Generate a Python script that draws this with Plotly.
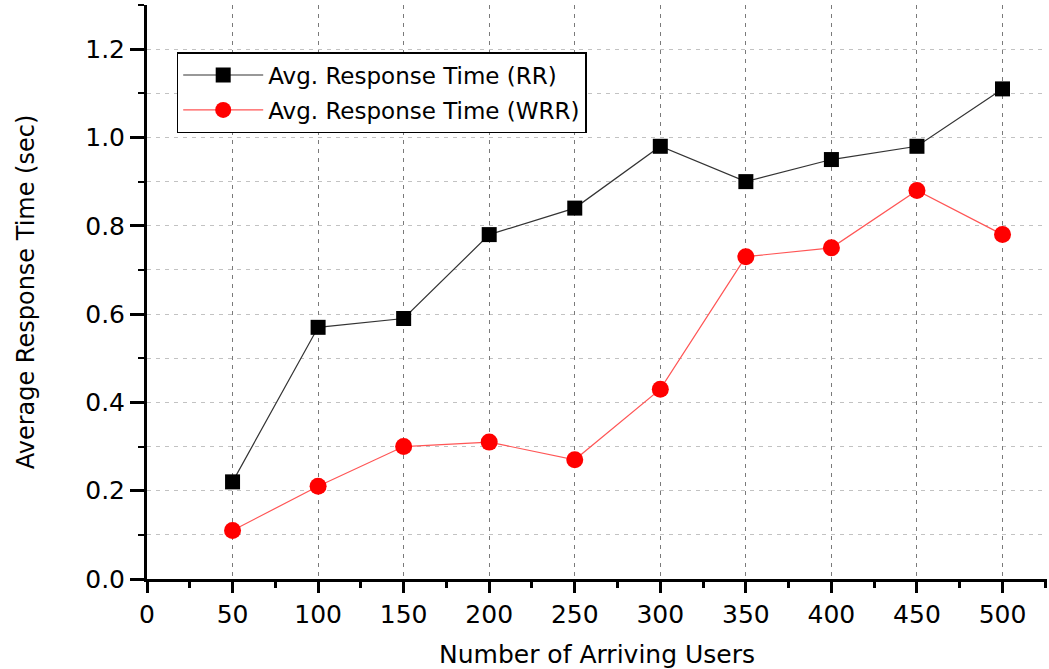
import plotly.graph_objects as go

# Number of arriving users and average response times (seconds)
users = [50, 100, 150, 200, 250, 300, 350, 400, 450, 500]
rr_times = [0.22, 0.57, 0.59, 0.78, 0.84, 0.98, 0.90, 0.95, 0.98, 1.11]
wrr_times = [0.11, 0.21, 0.30, 0.31, 0.27, 0.43, 0.73, 0.75, 0.88, 0.78]

x_ticks = [0, 50, 100, 150, 200, 250, 300, 350, 400, 450, 500]
y_ticks = [0.0, 0.2, 0.4, 0.6, 0.8, 1.0, 1.2]
y_tick_text = ["0.0", "0.2", "0.4", "0.6", "0.8", "1.0", "1.2"]

FONT = "DejaVu Sans, Arial, sans-serif"

fig = go.Figure()
fig.add_trace(go.Scatter(
    x=users, y=rr_times, mode="lines+markers",
    name="Avg. Response Time (RR)", legendgroup="rr",
    line=dict(color="#333333", width=1.2),
    marker=dict(symbol="square", size=15, color="black"),
))
fig.add_trace(go.Scatter(
    x=users, y=wrr_times, mode="lines+markers",
    name="Avg. Response Time (WRR)", legendgroup="wrr",
    line=dict(color="#ff5555", width=1.2),
    marker=dict(symbol="circle", size=17, color="red"),
))

fig.update_layout(
    width=1049, height=669,
    margin=dict(l=147, r=2, t=5, b=88),
    paper_bgcolor="white", plot_bgcolor="white",
    font=dict(family=FONT, color="black"),
    showlegend=True,
    legend=dict(
        x=0.033, y=0.918, xanchor="left", yanchor="top",
        bgcolor="white", bordercolor="black", borderwidth=1.5,
        font=dict(size=23, family=FONT),
        itemwidth=80, tracegroupgap=2,
    ),
    xaxis=dict(
        range=[0, 526], tickmode="array", tickvals=x_ticks,
        ticks="outside", ticklen=11, tickwidth=2.5, tickcolor="black",
        showline=True, linecolor="black", linewidth=3,
        showgrid=True, gridcolor="#7a7a7a", griddash="4px,5px", gridwidth=1.3,
        zeroline=False,
        tickfont=dict(size=25, family=FONT),
        title=dict(text="Number of Arriving Users", font=dict(size=25, family=FONT), standoff=20),
        minor=dict(dtick=25, tick0=0, ticks="outside", ticklen=6, tickwidth=2.5,
                   tickcolor="black", showgrid=False),
    ),
    yaxis=dict(
        range=[0, 1.3], tickmode="array", tickvals=y_ticks, ticktext=y_tick_text,
        ticks="outside", ticklen=14, tickwidth=2.5, tickcolor="black",
        showline=True, linecolor="black", linewidth=3,
        showgrid=False, zeroline=False,
        tickfont=dict(size=25, family=FONT),
        title=dict(text="Average Response Time (sec)", font=dict(size=24, family=FONT), standoff=44),
        minor=dict(dtick=0.1, tick0=0.1, ticks="outside", ticklen=6, tickwidth=2,
                   tickcolor="black", showgrid=True, gridcolor="#c2c2c2",
                   griddash="4px,5px", gridwidth=1),
    ),
)

fig.write_html("out.html")
